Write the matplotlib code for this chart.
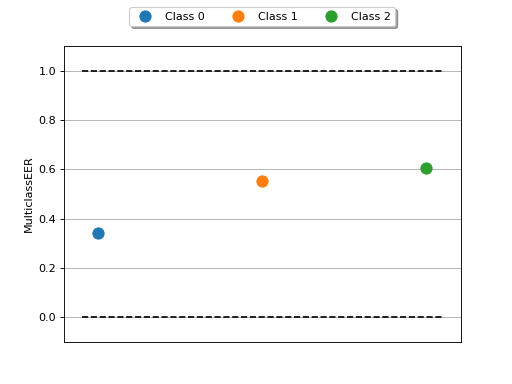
import matplotlib
matplotlib.use("Agg")
import matplotlib.pyplot as plt

classes = ["Class 0", "Class 1", "Class 2"]
values = [0.341, 0.553, 0.606]
bounds = [0.0, 1.0]
ylabel = "MulticlassEER"

fig, ax = plt.subplots(figsize=(6.4, 4.8), dpi=80)
for i, (name, v) in enumerate(zip(classes, values)):
    ax.plot(i, v, marker="o", markersize=10, linestyle="None", label=name)

n = len(values)
for b in bounds:
    ax.hlines(b, xmin=-0.1, xmax=n - 1 + 0.1, linestyles="dashed", colors="k")

ax.set_ylim(-0.1, 1.1)
ax.grid(True, axis="y")
ax.get_xaxis().set_visible(False)
ax.set_ylabel(ylabel)
ax.legend(loc="upper center", bbox_to_anchor=(0.5, 1.15), ncol=3, fancybox=True, shadow=True)
fig.savefig("out.png", dpi=80)
